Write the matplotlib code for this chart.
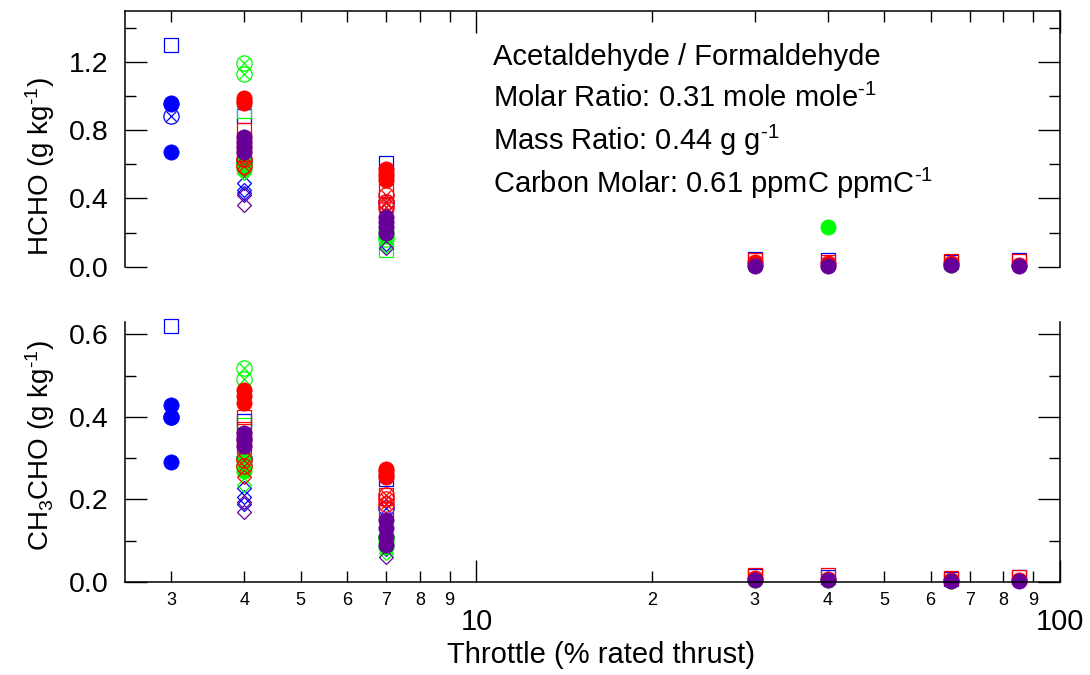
import matplotlib
matplotlib.use("Agg")
import matplotlib.pyplot as plt
from matplotlib.ticker import FixedLocator, FixedFormatter, MultipleLocator, NullFormatter

plt.rcParams['font.family'] = ['Liberation Sans', 'DejaVu Sans']
plt.rcParams['mathtext.fontset'] = 'custom'
plt.rcParams['mathtext.rm'] = 'Liberation Sans'
plt.rcParams['mathtext.it'] = 'Liberation Sans:italic'
plt.rcParams['mathtext.default'] = 'regular'

# ---------------- data: throttle (%), HCHO and CH3CHO emission indices (g/kg)
blue_circle_thr = [3, 3, 3]
blue_circle_hcho = [0.96, 0.95, 0.67]
blue_circle_ch3cho = [0.43, 0.40, 0.29]
blue_square_thr = [3, 4, 7, 30, 40, 65, 85]
blue_square_hcho = [1.30, 0.88, 0.61, 0.045, 0.04, 0.03, 0.04]
blue_square_ch3cho = [0.62, 0.39, 0.25, 0.015, 0.012, 0.008, 0.013]
blue_xcircle_thr = [3, 4, 7]
blue_xcircle_hcho = [0.88, 0.62, 0.38]
blue_xcircle_ch3cho = [0.40, 0.30, 0.18]
blue_diamond_thr = [4, 4, 4, 7]
blue_diamond_hcho = [0.49, 0.45, 0.43, 0.13]
blue_diamond_ch3cho = [0.228, 0.207, 0.19, 0.08]

green_circle_thr = [4, 4, 7, 7, 30, 40, 65]
green_circle_hcho = [0.61, 0.57, 0.21, 0.18, 0.01, 0.23, 0.01]
green_circle_ch3cho = [0.30, 0.27, 0.10, 0.085, 0.005, 0.006, 0.003]
green_square_thr = [4, 7]
green_square_hcho = [0.91, 0.10]
green_square_ch3cho = [0.38, 0.10]
green_xcircle_thr = [4, 4, 4, 7]
green_xcircle_hcho = [1.19, 1.13, 0.60, 0.16]
green_xcircle_ch3cho = [0.518, 0.491, 0.28, 0.11]
green_diamond_thr = [4, 7]
green_diamond_hcho = [0.55, 0.12]
green_diamond_ch3cho = [0.235, 0.07]

red_circle_thr = [4, 4, 4, 7, 7, 7, 7, 30, 40, 65, 85]
red_circle_hcho = [0.99, 0.97, 0.96, 0.57, 0.55, 0.53, 0.51, 0.03, 0.02, 0.02, 0.01]
red_circle_ch3cho = [0.465, 0.45, 0.433, 0.274, 0.268, 0.26, 0.254, 0.01, 0.008, 0.005, 0.005]
red_square_thr = [4, 4, 4, 4, 7, 7, 30, 40, 65, 85]
red_square_hcho = [0.80, 0.75, 0.70, 0.66, 0.45, 0.36, 0.04, 0.03, 0.035, 0.035]
red_square_ch3cho = [0.40, 0.37, 0.35, 0.33, 0.21, 0.17, 0.018, 0.017, 0.01, 0.012]
red_xcircle_thr = [4, 4, 7, 7, 7]
red_xcircle_hcho = [0.63, 0.59, 0.42, 0.38, 0.35]
red_xcircle_ch3cho = [0.296, 0.28, 0.21, 0.19, 0.20]
red_diamond_thr = [4, 7]
red_diamond_hcho = [0.57, 0.33]
red_diamond_ch3cho = [0.255, 0.15]

purple_circle_thr = [4, 4, 4, 4, 7, 7, 7, 7, 30, 40, 65, 85]
purple_circle_hcho = [0.76, 0.73, 0.70, 0.67, 0.29, 0.26, 0.23, 0.20, 0.005, 0.005, 0.01, 0.005]
purple_circle_ch3cho = [0.36, 0.35, 0.345, 0.33, 0.15, 0.13, 0.11, 0.09, 0.004, 0.004, 0.003, 0.002]
purple_diamond_thr = [4, 4, 7]
purple_diamond_hcho = [0.42, 0.36, 0.11]
purple_diamond_ch3cho = [0.195, 0.17, 0.06]

minor_tick_vals = [3, 4, 5, 6, 7, 8, 9, 20, 30, 40, 50, 60, 70, 80, 90]
minor_tick_labels = ['3', '4', '5', '6', '7', '8', '9',
                     '2', '3', '4', '5', '6', '7', '8', '9']
major_tick_vals = [10, 100]
major_tick_labels = ['10', '100']

ratio_lines = ['Acetaldehyde / Formaldehyde',
               r'Molar Ratio: 0.31 mole mole$^{\text{-1}}$',
               r'Mass Ratio: 0.44 g g$^{\text{-1}}$',
               r'Carbon Molar: 0.61 ppmC ppmC$^{\text{-1}}$']

BLUE = '#0000FF'
GREEN = '#00FF00'
RED = '#FF0000'
PURPLE = '#660099'

# (colour, marker kind, throttle, hcho, ch3cho) in drawing order
series = [
    (BLUE, 'square', blue_square_thr, blue_square_hcho, blue_square_ch3cho),
    (BLUE, 'xcircle', blue_xcircle_thr, blue_xcircle_hcho, blue_xcircle_ch3cho),
    (BLUE, 'diamond', blue_diamond_thr, blue_diamond_hcho, blue_diamond_ch3cho),
    (BLUE, 'circle', blue_circle_thr, blue_circle_hcho, blue_circle_ch3cho),
    (GREEN, 'square', green_square_thr, green_square_hcho, green_square_ch3cho),
    (GREEN, 'xcircle', green_xcircle_thr, green_xcircle_hcho, green_xcircle_ch3cho),
    (GREEN, 'diamond', green_diamond_thr, green_diamond_hcho, green_diamond_ch3cho),
    (GREEN, 'circle', green_circle_thr, green_circle_hcho, green_circle_ch3cho),
    (RED, 'square', red_square_thr, red_square_hcho, red_square_ch3cho),
    (RED, 'xcircle', red_xcircle_thr, red_xcircle_hcho, red_xcircle_ch3cho),
    (RED, 'diamond', red_diamond_thr, red_diamond_hcho, red_diamond_ch3cho),
    (RED, 'circle', red_circle_thr, red_circle_hcho, red_circle_ch3cho),
    (PURPLE, 'diamond', purple_diamond_thr, purple_diamond_hcho, purple_diamond_ch3cho),
    (PURPLE, 'circle', purple_circle_thr, purple_circle_hcho, purple_circle_ch3cho),
]


def draw(ax, color, kind, x, y):
    kw = dict(linestyle='none', clip_on=False)
    if kind == 'circle':
        ax.plot(x, y, marker='o', ms=11, mfc=color, mec=color, mew=0.5, **kw)
    elif kind == 'square':
        ax.plot(x, y, marker='s', ms=10.5, mfc='none', mec=color, mew=0.9, **kw)
    elif kind == 'diamond':
        ax.plot(x, y, marker='D', ms=6.8, mfc='none', mec=color, mew=0.9, **kw)
    elif kind == 'xcircle':
        ax.plot(x, y, marker='o', ms=11, mfc='none', mec=color, mew=0.9, **kw)
        ax.plot(x, y, marker='x', ms=6.5, mec=color, mew=0.9, **kw)


W, H = 1090, 675
fig = plt.figure(figsize=(W / 100, H / 100), dpi=100)
left, right = 125 / W, 1060 / W
ax1 = fig.add_axes([left, 1 - 266.7 / H, right - left, 256.2 / H])
ax2 = fig.add_axes([left, 1 - 582 / H, right - left, 260 / H])

for color, kind, thr, hcho, ch3cho in series:
    draw(ax1, color, kind, thr, hcho)
    draw(ax2, color, kind, thr, ch3cho)

for ax in (ax1, ax2):
    ax.set_xscale('log')
    ax.set_xlim(2.5, 100)
    ax.xaxis.set_major_locator(FixedLocator(major_tick_vals))
    ax.xaxis.set_minor_locator(FixedLocator(minor_tick_vals))
    for s in ax.spines.values():
        s.set_linewidth(1.1)
    ax.tick_params(axis='both', which='major', direction='in', length=16, width=1.0,
                   labelsize=20.5)
    ax.tick_params(axis='both', which='minor', direction='in', length=8, width=1.0)
    ax.tick_params(axis='y', which='both', left=True, right=True, pad=12)

ax1.set_ylim(0, 1.5)
ax1.yaxis.set_major_locator(FixedLocator([0.0, 0.4, 0.8, 1.2]))
ax1.yaxis.set_minor_locator(MultipleLocator(0.2))
ax1.set_yticklabels(['0.0', '0.4', '0.8', '1.2'])
ax1.spines['bottom'].set_visible(False)
ax1.tick_params(axis='x', which='both', bottom=False, top=True,
                labelbottom=False, labeltop=False)
ax1.xaxis.set_minor_formatter(NullFormatter())

ax2.set_ylim(0, 0.63)
ax2.yaxis.set_major_locator(FixedLocator([0.0, 0.2, 0.4, 0.6]))
ax2.yaxis.set_minor_locator(FixedLocator([0.1, 0.3, 0.5]))
ax2.set_yticklabels(['0.0', '0.2', '0.4', '0.6'])
ax2.spines['top'].set_visible(False)
ax2.tick_params(axis='x', which='both', bottom=True, top=False)
ax2.xaxis.set_major_formatter(FixedFormatter(major_tick_labels))
ax2.xaxis.set_minor_formatter(FixedFormatter(minor_tick_labels))
ax2.tick_params(axis='x', which='major', labelsize=21, pad=19)
ax2.tick_params(axis='x', which='minor', labelsize=13, pad=7)

ax2.set_xlabel('Throttle (% rated thrust)', fontsize=21)
ax2.xaxis.set_label_coords((601 - 125) / 935, -(641 - 582) / 260)

fig.text(40 / W, 1 - 166 / H, r'HCHO (g kg$^{\text{-1}}$)', rotation=90,
         ha='center', va='center', fontsize=20)
fig.text(40 / W, 1 - 446 / H, r'CH$_3$CHO (g kg$^{\text{-1}}$)', rotation=90,
         ha='center', va='center', fontsize=20)

baselines = [65, 106.7, 150, 193.3]
for txt, yb in zip(ratio_lines, baselines):
    ax1.text((493 - 125) / 935, (266.7 - yb) / 256.2, txt, transform=ax1.transAxes,
             ha='left', va='baseline', fontsize=21)

fig.savefig('out.png', dpi=100)
